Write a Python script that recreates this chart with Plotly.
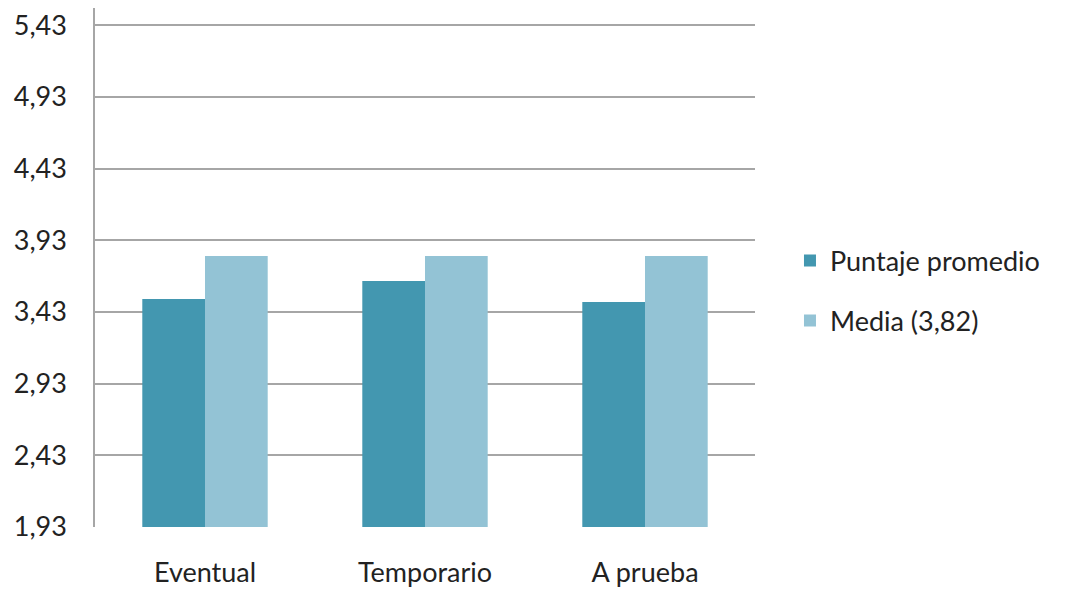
import plotly.graph_objects as go

categories = ["Eventual", "Temporario", "A prueba"]
puntaje = [3.52, 3.645, 3.50]
media = [3.82, 3.82, 3.82]
series_names = ["Puntaje promedio", "Media (3,82)"]

FONT = "Lato, Roboto, Noto Sans, sans-serif"
TXT = "#222222"

fig = go.Figure()
fig.add_trace(go.Bar(x=categories, y=puntaje, name=series_names[0],
                     marker=dict(color="#4397B0", line=dict(width=0)),
                     legendgroup="a"))
fig.add_trace(go.Bar(x=categories, y=media, name=series_names[1],
                     marker=dict(color="#93C3D5", line=dict(width=0)),
                     legendgroup="b"))

fig.update_layout(
    width=1075, height=610,
    margin=dict(l=95, r=320, t=8, b=83, autoexpand=False),
    paper_bgcolor="white", plot_bgcolor="white",
    barmode="group", bargap=0.43, bargroupgap=0,
    separators=",.",
    font=dict(family=FONT, size=27, color=TXT),
    showlegend=True,
    legend=dict(x=1.053, xanchor="left", y=0.455, yanchor="middle",
                font=dict(family=FONT, size=27, color=TXT),
                tracegroupgap=22, itemwidth=30, bgcolor="rgba(0,0,0,0)"),
    xaxis=dict(showgrid=False, showline=False, ticks="",
               ticklabelstandoff=27,
               tickfont=dict(family=FONT, size=27, color=TXT)),
    yaxis=dict(range=[1.93, 5.55], tick0=1.93, dtick=0.5, tickformat=".2f",
               showgrid=True, gridcolor="#A6A6A6", gridwidth=1.5,
               showline=True, linecolor="#A6A6A6", linewidth=1.5,
               zeroline=False, ticks="", ticklen=0, ticklabelstandoff=21,
               tickfont=dict(family=FONT, size=27, color=TXT)),
)

fig.write_html("out.html")
